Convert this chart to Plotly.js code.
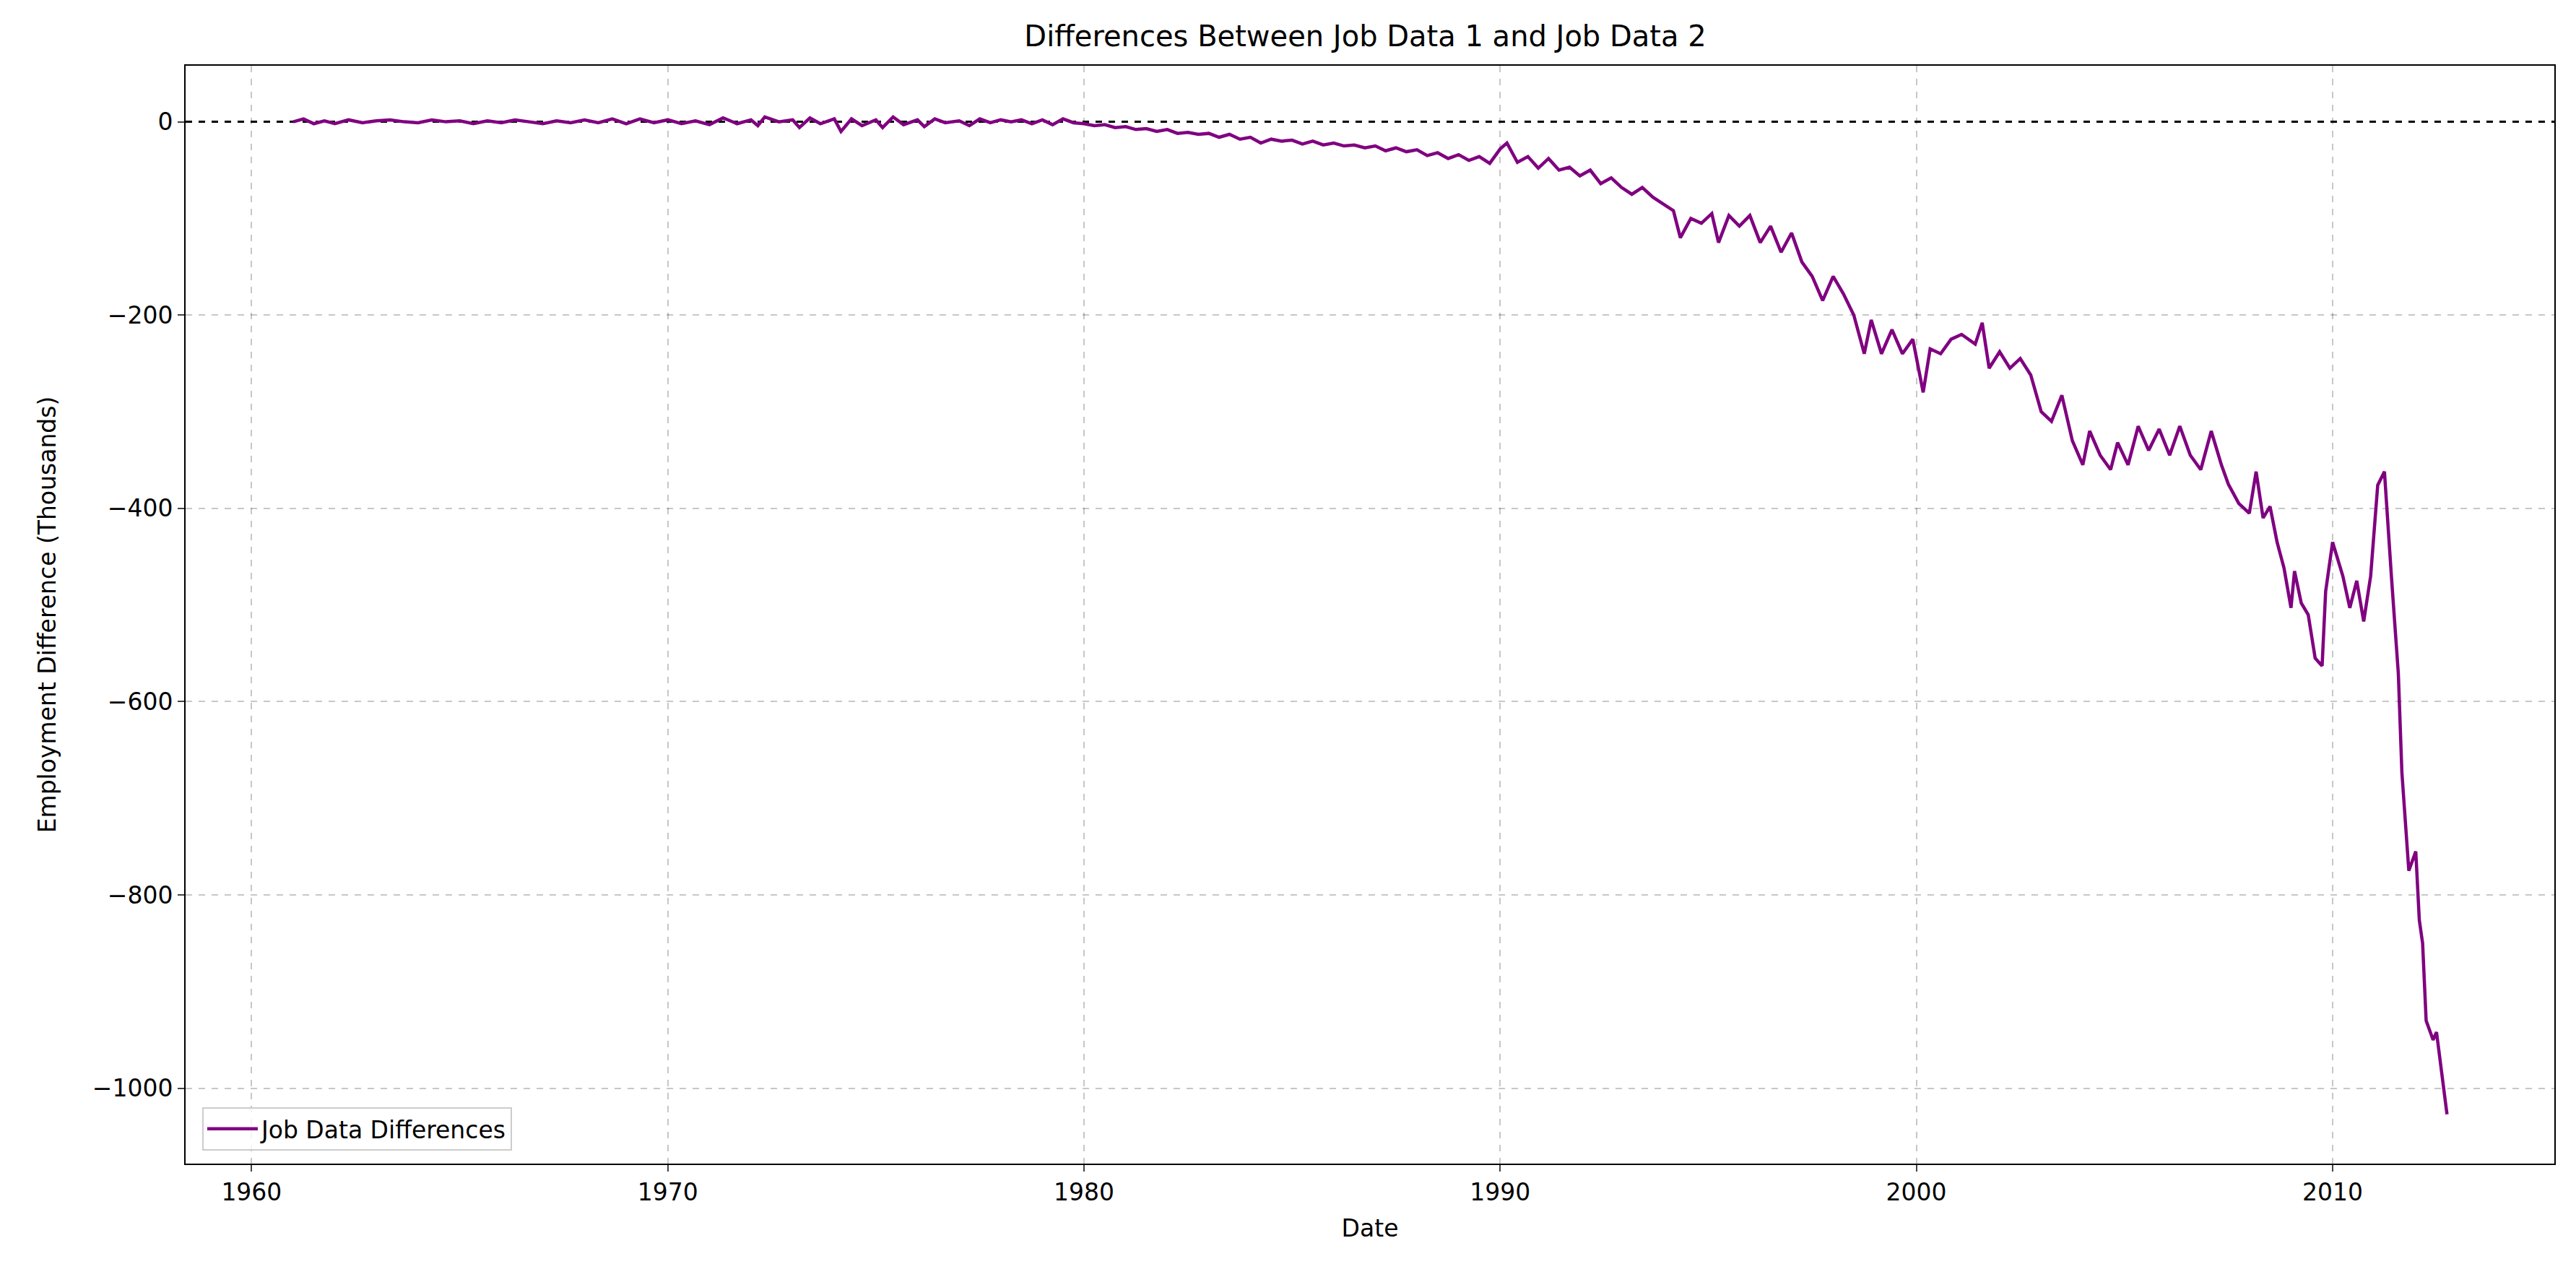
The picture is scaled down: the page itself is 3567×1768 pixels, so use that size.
<!DOCTYPE html>
<html>
<head>
<meta charset="utf-8">
<script src="https://cdn.plot.ly/plotly-3.0.1.min.js"></script>
<style>html,body{margin:0;padding:0;background:#fff}#plot{width:3567px;height:1768px}</style>
</head>
<body>
<div id="plot"></div>
<script>
// monthly differences (thousands)
const dates = [
  '1961-01','1961-04','1961-07','1961-10','1962-01','1962-05','1962-09','1963-01','1963-05','1963-09',
  '1964-01','1964-05','1964-09','1965-01','1965-05','1965-09','1966-01','1966-05','1966-09','1967-01',
  '1967-05','1967-09','1968-01','1968-05','1968-09','1969-01','1969-05','1969-09','1970-01','1970-05',
  '1970-09','1971-01','1971-05','1971-09','1972-01','1972-03','1972-05','1972-09','1973-01','1973-03',
  '1973-06','1973-09','1974-01','1974-03','1974-06','1974-09','1975-01','1975-03','1975-06','1975-09',
  '1976-01','1976-03','1976-06','1976-09','1977-01','1977-04','1977-07','1977-10','1978-01','1978-04',
  '1978-07','1978-10','1979-01','1979-04','1979-07','1979-10','1980-01','1980-04','1980-07','1980-10',
  '1981-01','1981-04','1981-07','1981-10','1982-01','1982-04','1982-07','1982-10','1983-01','1983-04',
  '1983-07','1983-10','1984-01','1984-04','1984-07','1984-10','1985-01','1985-04','1985-07','1985-10',
  '1986-01','1986-04','1986-07','1986-10','1987-01','1987-04','1987-07','1987-10','1988-01','1988-04',
  '1988-07','1988-10','1989-01','1989-04','1989-07','1989-10','1990-01','1990-03','1990-06','1990-09',
  '1990-12','1991-03','1991-06','1991-09','1991-12','1992-03','1992-06','1992-09','1992-12','1993-03',
  '1993-06','1993-09','1993-12','1994-03','1994-05','1994-08','1994-11','1995-02','1995-04','1995-07',
  '1995-10','1996-01','1996-04','1996-07','1996-10','1997-01','1997-04','1997-07','1997-10','1998-01',
  '1998-04','1998-07','1998-10','1998-12','1999-03','1999-06','1999-09','1999-12','2000-03','2000-05',
  '2000-08','2000-11','2001-02','2001-06','2001-08','2001-10','2002-01','2002-04','2002-07','2002-10',
  '2003-01','2003-04','2003-07','2003-10','2004-01','2004-03','2004-06','2004-09','2004-11','2005-02',
  '2005-05','2005-08','2005-11','2006-02','2006-05','2006-08','2006-11','2007-02','2007-05','2007-07',
  '2007-10','2008-01','2008-03','2008-05','2008-07','2008-09','2008-11','2009-01','2009-02','2009-04',
  '2009-06','2009-08','2009-10','2009-11','2010-01','2010-04','2010-06','2010-08','2010-10','2010-12',
  '2011-02','2011-04','2011-06','2011-08','2011-09','2011-11','2012-01','2012-02','2012-03','2012-04',
  '2012-06','2012-07','2012-10'
];
const diffs = [
  0,3,-2,1,-2,2,-1,1,2,0,
  -1,2,0,1,-2,1,-1,2,0,-2,
  1,-1,2,-1,3,-2,3,-1,2,-2,
  1,-3,4,-2,2,-4,5,0,2,-6,
  4,-2,3,-10,3,-4,2,-6,5,-3,
  2,-5,3,-1,1,-4,3,-1,2,0,
  2,-2,2,-3,3,-1,-2,-4,-3,-6,
  -5,-8,-7,-10,-8,-12,-11,-13,-12,-16,
  -13,-18,-16,-22,-18,-20,-19,-23,-20,-24,
  -22,-25,-24,-27,-25,-30,-27,-31,-29,-35,
  -32,-38,-34,-40,-36,-43,-28,-22,-42,-36,
  -48,-38,-50,-47,-56,-50,-64,-58,-68,-75,
  -68,-78,-85,-92,-120,-100,-105,-95,-125,-97,
  -108,-97,-125,-108,-135,-115,-145,-160,-185,-160,
  -178,-200,-240,-205,-240,-215,-240,-225,-280,-235,
  -240,-225,-220,-230,-208,-255,-238,-255,-245,-262,
  -300,-310,-283,-330,-355,-320,-345,-360,-332,-355,
  -315,-340,-318,-345,-315,-345,-360,-320,-355,-375,
  -395,-405,-362,-410,-398,-435,-462,-503,-465,-498,
  -510,-555,-563,-486,-435,-470,-503,-475,-517,-470,
  -376,-362,-470,-571,-673,-775,-755,-826,-850,-930,
  -950,-942,-1027
];
const tickYears = ['1960','1970','1980','1990','2000','2010'];

const fontFam = 'DejaVu Sans, sans-serif';
const gridStyle = {showgrid: true, gridcolor: 'rgba(0,0,0,0.22)', griddash: 'dash', gridwidth: 2};

const data = [
  {x: ['1958-06-01', '2015-05-01'], y: [0, 0], mode: 'lines', showlegend: false, hoverinfo: 'skip',
   line: {color: '#000', width: 3, dash: 'dash'}},
  {x: dates, y: diffs, mode: 'lines', name: 'Job Data Differences', line: {color: 'purple', width: 4.5}}
];

const layout = {
  width: 3567, height: 1768,
  margin: {l: 257, r: 30, t: 91, b: 157},
  paper_bgcolor: '#fff', plot_bgcolor: '#fff',
  font: {family: fontFam, size: 33, color: '#000'},
  title: {text: 'Differences Between Job Data 1 and Job Data 2', font: {size: 40}, x: 0.53, xanchor: 'center', y: 0.972, yanchor: 'middle'},
  xaxis: Object.assign({
    type: 'date', range: ['1958-06-01', '2015-05-01'],
    tickvals: tickYears.map(y => y + '-01-01'), ticktext: tickYears,
    ticks: 'outside', ticklen: 9, tickwidth: 2, showline: true, mirror: true, linecolor: '#000', linewidth: 2,
    zeroline: false, title: {text: 'Date', font: {size: 33}, standoff: 20}
  }, gridStyle),
  yaxis: Object.assign({
    range: [-1078, 58], tickvals: [0, -200, -400, -600, -800, -1000],
    ticktext: ['0', '\u2212200', '\u2212400', '\u2212600', '\u2212800', '\u22121000'],
    ticks: 'outside', ticklen: 9, tickwidth: 2, showline: true, mirror: true, linecolor: '#000', linewidth: 2,
    zeroline: false, title: {text: 'Employment Difference (Thousands)', font: {size: 33}, standoff: 40}
  }, gridStyle),
  legend: {x: 0.007, y: 0.012, xanchor: 'left', yanchor: 'bottom', bgcolor: 'rgba(255,255,255,0.8)',
           bordercolor: '#ccc', borderwidth: 2, font: {size: 33}, itemwidth: 70},
  showlegend: true
};

Plotly.newPlot('plot', data, layout, {staticPlot: true});
</script>
</body>
</html>
